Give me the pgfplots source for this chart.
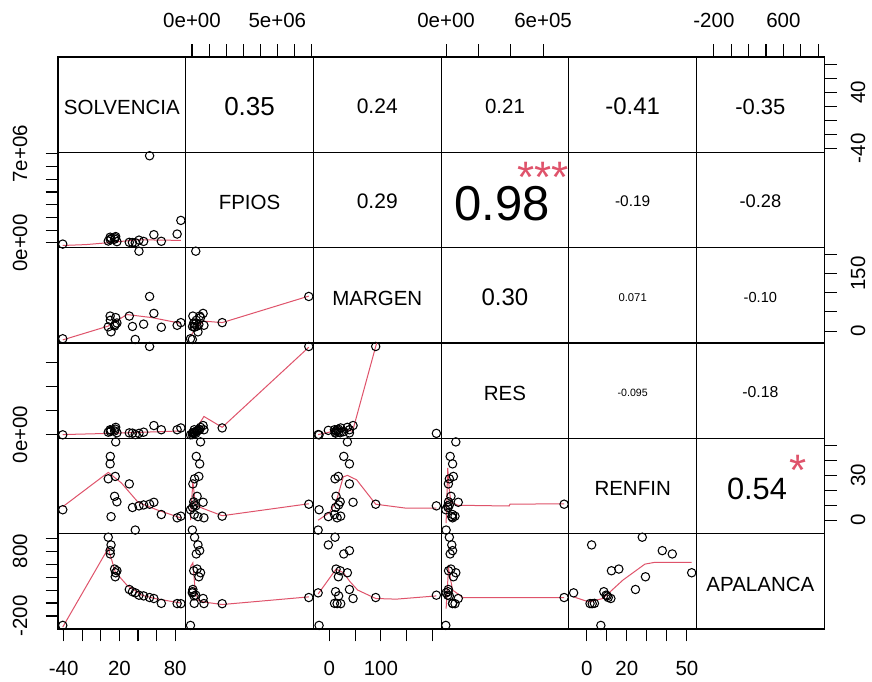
\documentclass[border=0pt]{standalone}
\usepackage{pgfplots}
\pgfplotsset{compat=1.18}
\usepackage{pgfplotstable}
\usepackage{fontspec}
\setmainfont{Liberation Sans}
\definecolor{rred}{HTML}{DF536B}

\pgfplotstableread{
S F M RES R A
-40.9 -90000 -20 -2000 7 -345
37 20000 -21.8 0 -6.6 157
52.4 6850000 90 730000 10.7 85
41 220000 207.8 10000 9.6 121
8 150000 11 20000 27.7 1015
11 350000 -2 35000 2.4 896
10 450000 39 40000 37.7 808
10.2 250000 28 25000 42.7 757
16 500000 35 60000 52.4 467
17.3 100000 21 15000 12.3 498
14.8 300000 13 30000 16 524
15.5 400000 17.5 45000 29.3 405
30.6 50000 39 14000 24.3 209
57 650000 46 75000 12 70
65 130000 10 40000 3.8 -5
82 700000 15 40000 1.6 -8
86 1770000 22 55000 2.7 -10
34 30000 12 12000 8.5 175
46 120000 18 20000 10.2 110
}\data

\pgfplotsset{
 panel/.style={scale only axis, width=127.7pt, height=95.33pt, anchor=south west,
   xtick=\empty, ytick=\empty, axis line style={line width=1.1pt, black},
   tick align=outside, major tick length=12.5pt,
   tick style={black, line width=1.1pt}, scaled ticks=false,
   xticklabels={}, yticklabels={}},
 xS/.style={xmin=-46,xmax=91.2}, yS/.style={ymin=-46,ymax=91.2},
 xF/.style={xmin=-370000,xmax=7120000}, yF/.style={ymin=-370000,ymax=7120000},
 xM/.style={xmin=-31,xmax=217}, yM/.style={ymin=-31,ymax=217},
 xRES/.style={xmin=-31000,xmax=759000}, yRES/.style={ymin=-31000,ymax=759000},
 xR/.style={xmin=-9,xmax=54.8}, yR/.style={ymin=-9,ymax=54.8},
 xA/.style={xmin=-400,xmax=1070}, yA/.style={ymin=-400,ymax=1070},
 pts/.style={only marks, mark=o, mark size=4.2pt, black, mark options={line width=1.05pt}},
 lw/.style={rred, line width=1pt, no marks},
}

\begin{document}
\begin{tikzpicture}
\useasboundingbox (0pt,0pt) rectangle (872pt,682pt);
\fill[white] (0pt,0pt) rectangle (872pt,682pt);

% ---------- row 1 (y = SOLVENCIA)
\begin{axis}[panel, xS, yS, at={(58pt,529.67pt)}]\end{axis}
\begin{axis}[panel, xF, yS, at={(185.7pt,529.67pt)}, xtick={0,1000000,2000000,3000000,4000000,5000000,6000000,7000000}, xtick pos=right]\end{axis}
\begin{axis}[panel, xM, yS, at={(313.4pt,529.67pt)}]\end{axis}
\begin{axis}[panel, xRES, yS, at={(441.1pt,529.67pt)}, xtick={0,200000,400000,600000}, xtick pos=right]\end{axis}
\begin{axis}[panel, xR, yS, at={(568.8pt,529.67pt)}]\end{axis}
\begin{axis}[panel, xA, yS, at={(696.5pt,529.67pt)}, xtick={-200,0,200,400,600,800,1000}, xtick pos=right, ytick={-40,-20,0,20,40,60,80}, ytick pos=right]\end{axis}

% ---------- row 2 (y = FPIOS)
\begin{axis}[panel, xS, yF, at={(58pt,434.34pt)}, ytick={0,1000000,2000000,3000000,4000000,5000000,6000000,7000000}, ytick pos=left]
\addplot[lw] coordinates {(-40.9,-200000) (-16,-130000) (5,0) (40,250000) (86,200000)};
\addplot[pts] table[x=S,y=F] {\data};
\end{axis}
\begin{axis}[panel, xF, yF, at={(185.7pt,434.34pt)}]\end{axis}
\begin{axis}[panel, xM, yF, at={(313.4pt,434.34pt)}]\end{axis}
\begin{axis}[panel, xRES, yF, at={(441.1pt,434.34pt)}]\end{axis}
\begin{axis}[panel, xR, yF, at={(568.8pt,434.34pt)}]\end{axis}
\begin{axis}[panel, xA, yF, at={(696.5pt,434.34pt)}]\end{axis}

% ---------- row 3 (y = MARGEN)
\begin{axis}[panel, xS, yM, at={(58pt,339.01pt)}]
\addplot[lw] coordinates {(-40.9,-23) (8,13) (28,43) (55,35) (86,20)};
\addplot[pts] table[x=S,y=M] {\data};
\end{axis}
\begin{axis}[panel, xF, yM, at={(185.7pt,339.01pt)}]
\addplot[lw] coordinates {(-90000,-13) (200000,5) (660000,26) (1770000,22) (6850000,91)};
\addplot[pts] table[x=F,y=M] {\data};
\end{axis}
\begin{axis}[panel, xM, yM, at={(313.4pt,339.01pt)}]\end{axis}
\begin{axis}[panel, xRES, yM, at={(441.1pt,339.01pt)}]\end{axis}
\begin{axis}[panel, xR, yM, at={(568.8pt,339.01pt)}]\end{axis}
\begin{axis}[panel, xA, yM, at={(696.5pt,339.01pt)}, ytick={0,50,100,150,200}, ytick pos=right]\end{axis}

% ---------- row 4 (y = RES)
\begin{axis}[panel, xS, yRES, at={(58pt,243.68pt)}, ytick={0,200000,400000,600000}, ytick pos=left]
\addplot[lw] coordinates {(-40.9,0) (10,10000) (86,30000)};
\addplot[pts] table[x=S,y=RES] {\data};
\end{axis}
\begin{axis}[panel, xF, yRES, at={(185.7pt,243.68pt)}]
\addplot[lw] coordinates {(-90000,0) (300000,60000) (700000,150000) (1770000,60000) (6850000,724000)};
\addplot[pts] table[x=F,y=RES] {\data};
\end{axis}
\begin{axis}[panel, xM, yRES, at={(313.4pt,243.68pt)}]
\addplot[lw] coordinates {(-21.8,0) (0,20000) (21,55000) (45,27000) (90,730000) (207.8,2500000)};
\addplot[pts] table[x=M,y=RES] {\data};
\end{axis}
\begin{axis}[panel, xRES, yRES, at={(441.1pt,243.68pt)}]\end{axis}
\begin{axis}[panel, xR, yRES, at={(568.8pt,243.68pt)}]\end{axis}
\begin{axis}[panel, xA, yRES, at={(696.5pt,243.68pt)}]\end{axis}

% ---------- row 5 (y = RENFIN)
\begin{axis}[panel, xS, yR, at={(58pt,148.35pt)}]
\addplot[lw] coordinates {(-40.9,9) (8,32) (22,25) (40,12) (60,7) (86,1.5)};
\addplot[pts] table[x=S,y=R] {\data};
\end{axis}
\begin{axis}[panel, xF, yR, at={(185.7pt,148.35pt)}]
\addplot[lw] coordinates {(-90000,0) (50000,26) (200000,10) (660000,7.8) (1770000,3) (6850000,11)};
\addplot[pts] table[x=F,y=R] {\data};
\end{axis}
\begin{axis}[panel, xM, yR, at={(313.4pt,148.35pt)}]
\addplot[lw] coordinates {(-21.8,0) (0,5) (14,13.3) (27,29) (35,30) (53,27) (90,10.7) (150,8) (207.8,8)};
\addplot[pts] table[x=M,y=R] {\data};
\end{axis}
\begin{axis}[panel, xRES, yR, at={(441.1pt,148.35pt)}]
\addplot[lw] coordinates {(0,-2) (10000,35) (20000,20) (30000,12) (73000,10) (390000,9.5) (395000,10.7) (730000,11)};
\addplot[pts] table[x=RES,y=R] {\data};
\end{axis}
\begin{axis}[panel, xR, yR, at={(568.8pt,148.35pt)}]\end{axis}
\begin{axis}[panel, xA, yR, at={(696.5pt,148.35pt)}, ytick={0,10,20,30,40,50}, ytick pos=right]\end{axis}

% ---------- row 6 (y = APALANCA)
\begin{axis}[panel, xS, yA, at={(58pt,53.02pt)}, xtick={-40,-20,0,20,40,60,80}, xtick pos=left, ytick={-200,0,200,400,600,800,1000}, ytick pos=left]
\addplot[lw] coordinates {(-40.9,-370) (8,845) (15.5,480) (28,276) (44,121) (58,70) (86,0)};
\addplot[pts] table[x=S,y=A] {\data};
\end{axis}
\begin{axis}[panel, xF, yA, at={(185.7pt,53.02pt)}]
\addplot[lw] coordinates {(-90000,560) (50000,620) (200000,150) (400000,40) (660000,17) (1770000,-23) (6850000,95)};
\addplot[pts] table[x=F,y=A] {\data};
\end{axis}
\begin{axis}[panel, xM, yA, at={(313.4pt,53.02pt)}, xtick={0,50,100,150,200}, xtick pos=left]
\addplot[lw] coordinates {(-21.8,140) (13,523) (27,470) (40,330) (55,200) (90,70) (130,60) (207.8,110)};
\addplot[pts] table[x=M,y=A] {\data};
\end{axis}
\begin{axis}[panel, xRES, yA, at={(441.1pt,53.02pt)}]
\addplot[lw] coordinates {(0,-85) (15000,535) (40000,200) (104000,85) (730000,85)};
\addplot[pts] table[x=RES,y=A] {\data};
\end{axis}
\begin{axis}[panel, xR, yA, at={(568.8pt,53.02pt)}, xtick={0,10,20,30,40,50}, xtick pos=left]
\addplot[lw] coordinates {(-6.6,95) (1,17) (8,70) (18,353) (29,600) (34,628) (52.4,628)};
\addplot[pts] table[x=R,y=A] {\data};
\end{axis}
\begin{axis}[panel, xA, yA, at={(696.5pt,53.02pt)}]\end{axis}

\begin{scope}[x=1pt,y=1pt]
% ---------- diagonal names
\begin{scope}[every node/.style={inner sep=0pt, font=\fontsize{20.5}{20.5}\selectfont}]
\node at (121.85,574.5) {SOLVENCIA};
\node at (249.55,479.3) {FPIOS};
\node at (377.25,384.0) {MARGEN};
\node at (504.95,288.7) {RES};
\node at (632.65,193.3) {RENFIN};
\node at (760.35,97.8) {APALANCA};
\end{scope}

% ---------- correlations
\begin{scope}[every node/.style={inner sep=0pt}]
\node[font=\fontsize{26}{26}\selectfont] at (249.55,575.5) {0.35};
\node[font=\fontsize{21}{21}\selectfont] at (377.25,575.5) {0.24};
\node[font=\fontsize{20.5}{20.5}\selectfont] at (504.95,575.5) {0.21};
\node[font=\fontsize{24}{24}\selectfont] at (632.65,575.5) {-0.41};
\node[font=\fontsize{22}{22}\selectfont] at (760.35,575.5) {-0.35};
\node[font=\fontsize{21}{21}\selectfont] at (377.25,480.5) {0.29};
\node[font=\fontsize{49}{49}\selectfont] at (502,478.5) {0.98};
\node[font=\fontsize{15.4}{15.4}\selectfont] at (632.65,480.5) {-0.19};
\node[font=\fontsize{18.3}{18.3}\selectfont] at (760.35,480.5) {-0.28};
\node[font=\fontsize{24}{24}\selectfont] at (504.95,384.8) {0.30};
\node[font=\fontsize{11.3}{11.3}\selectfont] at (632.65,384.8) {0.071};
\node[font=\fontsize{14.6}{14.6}\selectfont] at (760.35,384.8) {-0.10};
\node[font=\fontsize{10.6}{10.6}\selectfont] at (632.65,289.5) {-0.095};
\node[font=\fontsize{15.8}{15.8}\selectfont] at (760.35,289.5) {-0.18};
\node[font=\fontsize{30.8}{30.8}\selectfont] at (757,193.5) {0.54};
\node[font=\fontsize{44}{44}\selectfont, text=rred] at (543,505) {***};
\node[font=\fontsize{44}{44}\selectfont, text=rred] at (798,211.5) {*};
\end{scope}

% ---------- tick labels
\begin{scope}[every node/.style={inner sep=0pt, font=\fontsize{20.5}{20.5}\selectfont}]
\node at (192.0,661.5) {0e+00};
\node at (277.3,661.5) {5e+06};
\node at (446.1,661.5) {0e+00};
\node at (543.1,661.5) {6e+05};
\node at (713.9,661.5) {-200};
\node at (783.4,661.5) {600};
\node at (63.6,14) {-40};
\node at (119.4,14) {20};
\node at (175.2,14) {80};
\node at (329.4,14) {0};
\node at (380.9,14) {100};
\node at (586.8,14) {0};
\node at (626.8,14) {20};
\node at (686.9,14) {50};
\node[rotate=90] at (20,439.0) {0e+00};
\node[rotate=90] at (20,528.1) {7e+06};
\node[rotate=90] at (20,247.4) {0e+00};
\node[rotate=90] at (20,66.0) {-200};
\node[rotate=90] at (20,130.8) {800};
\node[rotate=90] at (858,533.8) {-40};
\node[rotate=90] at (858,589.4) {40};
\node[rotate=90] at (858,350.9) {0};
\node[rotate=90] at (858,408.6) {150};
\node[rotate=90] at (858,161.8) {0};
\node[rotate=90] at (858,206.6) {30};
\end{scope}
\end{scope}
\end{tikzpicture}
\end{document}
